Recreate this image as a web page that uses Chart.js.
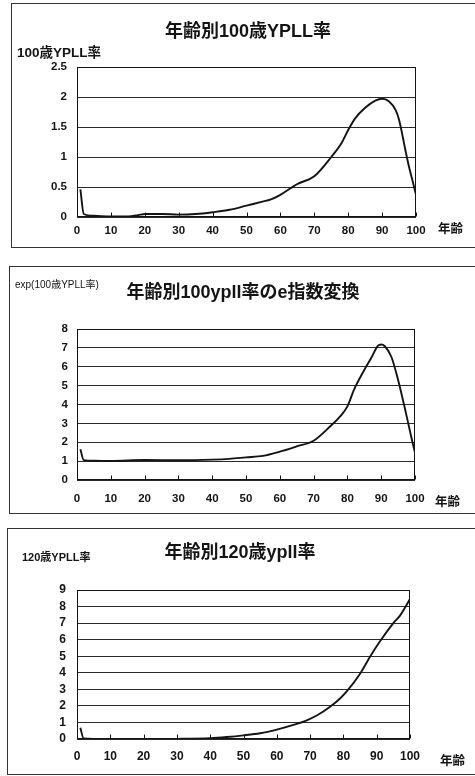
<!DOCTYPE html>
<html>
<head>
<meta charset="utf-8">
<script src="https://cdn.jsdelivr.net/npm/chart.js@4/dist/chart.umd.min.js"></script>
<style>
  html, body { margin: 0; padding: 0; background: #fff; }
  body { width: 475px; height: 776px; position: relative; overflow: hidden; }
  .panel { position: absolute; border: 1px solid #333; box-sizing: border-box; }
  canvas { position: absolute; left: 0; }
</style>
</head>
<body>
<div class="panel" style="left:11px;top:3px;width:470px;height:245px"></div>
<div class="panel" style="left:9px;top:266px;width:472px;height:248px"></div>
<div class="panel" style="left:7px;top:528px;width:474px;height:247px"></div>
<canvas id="c1" width="475" height="250" style="top:0"></canvas>
<canvas id="c2" width="475" height="262" style="top:256px"></canvas>
<canvas id="c3" width="475" height="258" style="top:518px"></canvas>
<script>
// ---- data ----
const xTicks = ['0', '10', '20', '30', '40', '50', '60', '70', '80', '90', '100'];

// 100歳YPLL率 by age
const ages1 = [1, 2, 5, 10, 15, 18, 20, 25, 30, 35, 40, 45, 50, 55, 57, 60, 63, 65, 70, 75, 78, 80, 82, 85, 88, 90, 92, 94, 95, 97, 98, 99, 100];
const ypll100 = [0.46, 0.05, 0.02, 0.01, 0.01, 0.03, 0.05, 0.05, 0.04, 0.05, 0.08, 0.12, 0.19, 0.26, 0.29, 0.37, 0.48, 0.55, 0.68, 1.0, 1.23, 1.45, 1.64, 1.82, 1.94, 1.97, 1.93, 1.78, 1.62, 1.08, 0.82, 0.6, 0.37];
const yTicks1 = ['0', '0.5', '1', '1.5', '2', '2.5'];

// exp(100歳YPLL率) by age
const ages2 = [1, 2, 5, 10, 20, 30, 40, 45, 50, 55, 60, 65, 70, 75, 78, 80, 82, 85, 87, 89, 90, 91, 93, 95, 97, 99, 100];
const expYpll100 = [1.63, 1.05, 1.02, 1.01, 1.06, 1.05, 1.08, 1.12, 1.2, 1.28, 1.5, 1.78, 2.08, 2.86, 3.4, 3.9, 4.8, 5.83, 6.45, 7.1, 7.18, 7.1, 6.53, 5.3, 3.8, 2.2, 1.45];
const yTicks2 = ['0', '1', '2', '3', '4', '5', '6', '7', '8'];

// 120歳YPLL率 by age
const ages3 = [1, 2, 5, 10, 20, 30, 40, 45, 50, 55, 60, 65, 69, 72, 76, 79, 81, 85, 88, 91, 95, 97, 100];
const ypll120 = [0.68, 0.03, 0.01, 0.0, 0.0, 0.01, 0.05, 0.12, 0.22, 0.35, 0.57, 0.85, 1.13, 1.42, 1.95, 2.45, 2.87, 3.94, 4.97, 5.9, 7.0, 7.45, 8.45];
const yTicks3 = ['0', '1', '2', '3', '4', '5', '6', '7', '8', '9'];

// ---- drawing ----
const INK = '#141414';
const JP = '"Liberation Sans", "Noto Sans CJK JP", "Noto Sans CJK SC", sans-serif';

// plot frame, inward x tick marks and free-standing labels
const decor = {
  id: 'decor',
  beforeDatasetsDraw(chart) {
    const { ctx, chartArea: a, scales: { x } } = chart;
    ctx.save();
    ctx.strokeStyle = INK;
    ctx.lineWidth = 1;
    const l = Math.round(a.left) + 0.5, t = Math.round(a.top) + 0.5;
    const r = Math.round(a.right) - 0.5, b = Math.round(a.bottom) - 0.5;
    ctx.strokeRect(l, t, r - l, b - t);
    ctx.beginPath();
    x.ticks.forEach(tk => {
      const px = Math.round(x.getPixelForValue(tk.value)) + 0.5;
      ctx.moveTo(px, b);
      ctx.lineTo(px, b - 4);
    });
    ctx.stroke();
    ctx.restore();
  },
  afterDraw(chart, args, opts) {
    const { ctx } = chart;
    ctx.save();
    ctx.fillStyle = INK;
    ctx.textBaseline = 'middle';
    (opts.texts || []).forEach(t => {
      ctx.font = t.font;
      ctx.textAlign = t.align || 'left';
      ctx.fillText(t.text, t.x, t.y);
    });
    ctx.restore();
  }
};

function makeChart(id, ages, values, yTicks, yMax, g, texts) {
  const canvas = document.getElementById(id);
  const H = canvas.height, W = canvas.width;
  const yAxisW = 40, xAxisH = 30;
  return new Chart(canvas, {
    type: 'line',
    data: {
      datasets: [{
        data: ages.map((a, i) => ({ x: a, y: values[i] })),
        borderColor: INK,
        borderWidth: 1.9,
        pointRadius: 0,
        cubicInterpolationMode: 'monotone',
        fill: false
      }]
    },
    options: {
      responsive: false,
      animation: false,
      devicePixelRatio: 1,
      layout: {
        padding: {
          left: g.left - yAxisW,
          right: W - g.right,
          top: g.top,
          bottom: H - g.bottom - xAxisH
        }
      },
      plugins: {
        legend: { display: false },
        tooltip: { enabled: false },
        title: { display: false },
        decor: { texts }
      },
      scales: {
        x: {
          type: 'linear',
          min: 0, max: 100,
          afterFit(s) { s.height = xAxisH; },
          afterBuildTicks(s) { s.ticks = xTicks.map(v => ({ value: Number(v) })); },
          ticks: {
            callback: (v, i) => xTicks[i],
            color: INK,
            padding: g.xPad,
            maxRotation: 0,
            autoSkip: false,
            font: { family: '"Liberation Sans", Arial, sans-serif', size: g.tickSize, weight: 'bold' }
          },
          grid: { display: false, drawTicks: false },
          border: { display: false }
        },
        y: {
          min: 0, max: yMax,
          afterFit(s) { s.width = yAxisW; },
          afterBuildTicks(s) { s.ticks = yTicks.map(v => ({ value: Number(v) })); },
          ticks: {
            callback: (v, i) => yTicks[i],
            color: INK,
            padding: g.yPad,
            autoSkip: false,
            font: { family: '"Liberation Sans", Arial, sans-serif', size: g.tickSize, weight: 'bold' }
          },
          grid: { color: '#2a2a2a', lineWidth: 1, drawTicks: false },
          border: { display: false }
        }
      }
    },
    plugins: [decor]
  });
}

makeChart('c1', ages1, ypll100, yTicks1, 2.5,
  { left: 77, right: 416, top: 67, bottom: 217, xPad: 7, yPad: 10, tickSize: 11.5 },
  [
    { text: '年齢別100歳YPLL率', x: 248, y: 32, align: 'center', font: 'bold 18px ' + JP },
    { text: '100歳YPLL率', x: 17, y: 53, font: 'bold 13.5px ' + JP },
    { text: '年齢', x: 438, y: 230, font: 'bold 12.5px ' + JP }
  ]);

makeChart('c2', ages2, expYpll100, yTicks2, 8,
  { left: 77, right: 415, top: 73, bottom: 224, xPad: 12, yPad: 9, tickSize: 11.5 },
  [
    { text: '年齢別100ypll率のe指数変換', x: 243, y: 37, align: 'center', font: 'bold 18px ' + JP },
    { text: 'exp(100歳YPLL率)', x: 15, y: 29, font: '10px ' + JP },
    { text: '年齢', x: 435, y: 247, font: 'bold 12.5px ' + JP }
  ]);

makeChart('c3', ages3, ypll120, yTicks3, 9,
  { left: 77, right: 410, top: 72, bottom: 221, xPad: 10, yPad: 11, tickSize: 12 },
  [
    { text: '年齢別120歳ypll率', x: 240, y: 35, align: 'center', font: 'bold 18px ' + JP },
    { text: '120歳YPLL率', x: 22, y: 40, font: 'bold 11px ' + JP },
    { text: '年齢', x: 440, y: 244, font: 'bold 12.5px ' + JP }
  ]);
</script>
</body>
</html>
